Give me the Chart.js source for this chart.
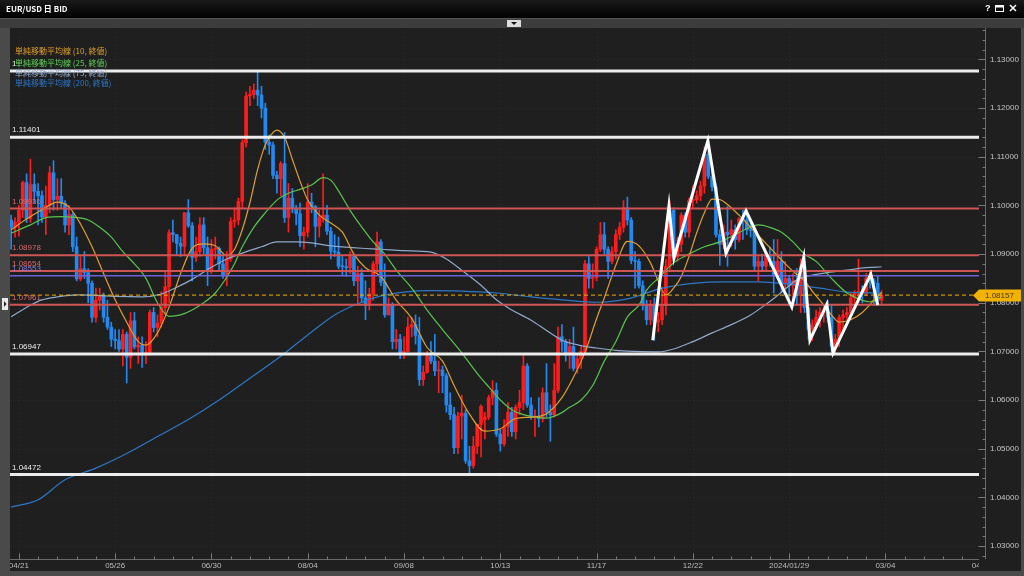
<!DOCTYPE html>
<html><head><meta charset="utf-8">
<script src="https://cdn.jsdelivr.net/npm/chart.js@4.4.1/dist/chart.umd.min.js"></script>
<style>
html,body{margin:0;padding:0;background:#202020;width:1024px;height:576px;overflow:hidden}
canvas{display:block}
</style></head><body>
<canvas id="c" width="1024" height="576"></canvas>
<script>
// ---------- DATA (daily EUR/USD BID, first bar = 2 bars before 04/21) ----------
const firstBarPos = -2;
const opens = [1.0970,1.0955,1.0966,1.0990,1.1047,1.0973,1.1043,1.1029,1.1020,1.0976,
 1.1000,1.1067,1.1012,1.1019,1.1004,1.0960,1.0981,1.0915,1.0849,1.0870,
 1.0862,1.0840,1.0770,1.0805,1.0815,1.0770,1.0750,1.0725,1.0722,1.0705,
 1.0735,1.0688,1.0763,1.0709,1.0713,1.0693,1.0698,1.0780,1.0749,1.0758,
 1.0790,1.0833,1.0944,1.0940,1.0922,1.0916,1.0985,1.0958,1.0893,1.0905,
 1.0960,1.0913,1.0866,1.0910,1.0912,1.0880,1.0855,1.0890,1.0967,1.0970,
 1.1008,1.1129,1.1225,1.1228,1.1237,1.1227,1.1200,1.1130,1.1124,1.1062,
 1.1055,1.1086,1.0975,1.1015,1.0995,1.0983,1.0938,1.0945,1.1007,1.0998,
 1.0957,1.0975,1.0980,1.0947,1.0906,1.0904,1.0875,1.0874,1.0872,1.0895,
 1.0845,1.0860,1.0810,1.0795,1.0818,1.0880,1.0925,1.0842,1.0775,1.0795,
 1.0720,1.0725,1.0697,1.0700,1.0750,1.0755,1.0733,1.0642,1.0657,1.0690,
 1.0680,1.0660,1.0662,1.0650,1.0590,1.0570,1.0502,1.0567,1.0573,1.0475,
 1.0465,1.0505,1.0550,1.0560,1.0565,1.0605,1.0620,1.0530,1.0510,1.0545,
 1.0575,1.0535,1.0585,1.0595,1.0670,1.0590,1.0565,1.0567,1.0562,1.0615,
 1.0575,1.0570,1.0620,1.0730,1.0720,1.0695,1.0710,1.0665,1.0685,1.0700,
 1.0880,1.0850,1.0852,1.0910,1.0940,1.0910,1.0885,1.0905,1.0940,1.0955,
 1.0995,1.0970,1.0887,1.0885,1.0835,1.0795,1.0765,1.0795,1.0760,1.0765,
 1.0795,1.0875,1.0990,1.0895,1.0920,1.0980,1.0945,1.1010,1.1012,1.1020,
 1.1040,1.1105,1.1060,1.1038,1.0940,1.0920,1.0945,1.0940,1.0950,1.0930,
 1.0973,1.0970,1.0950,1.0948,1.0875,1.0885,1.0875,1.0897,1.0885,1.0855,
 1.0885,1.0840,1.0850,1.0835,1.0845,1.0815,1.0875,1.0790,1.0745,1.0755,
 1.0770,1.0780,1.0785,1.0770,1.0710,1.0725,1.0770,1.0775,1.0780,1.0810,
 1.0820,1.0823,1.0820,1.0850,1.0845,1.0840,1.0805];
const highs = [1.0980,1.0975,1.1000,1.1050,1.1065,1.1095,1.1065,1.1045,1.1030,1.1040,
 1.1080,1.1092,1.1055,1.1055,1.1010,1.1000,1.0985,1.0935,1.0895,1.0905,
 1.0870,1.0845,1.0830,1.0830,1.0820,1.0805,1.0760,1.0745,1.0745,1.0745,
 1.0740,1.0780,1.0780,1.0730,1.0730,1.0720,1.0785,1.0790,1.0775,1.0823,
 1.0865,1.0950,1.0970,1.0940,1.0935,1.0985,1.1012,1.0965,1.0935,1.0975,
 1.0975,1.0935,1.0930,1.0935,1.0915,1.0900,1.0905,1.0975,1.0995,1.1015,
 1.1135,1.1233,1.1245,1.1250,1.1276,1.1245,1.1210,1.1145,1.1130,1.1070,
 1.1090,1.1150,1.1045,1.1035,1.1000,1.1005,1.0955,1.1045,1.1025,1.1000,
 1.0990,1.1065,1.1000,1.0955,1.0940,1.0935,1.0895,1.0890,1.0905,1.0900,
 1.0875,1.0870,1.0845,1.0830,1.0885,1.0945,1.0930,1.0880,1.0810,1.0800,
 1.0745,1.0735,1.0730,1.0770,1.0770,1.0775,1.0770,1.0670,1.0700,1.0720,
 1.0735,1.0680,1.0670,1.0655,1.0615,1.0585,1.0575,1.0610,1.0580,1.0505,
 1.0525,1.0550,1.0590,1.0575,1.0610,1.0640,1.0635,1.0540,1.0560,1.0595,
 1.0585,1.0590,1.0620,1.0695,1.0675,1.0605,1.0580,1.0605,1.0625,1.0675,
 1.0590,1.0675,1.0750,1.0755,1.0725,1.0725,1.0750,1.0695,1.0710,1.0887,
 1.0895,1.0880,1.0915,1.0965,1.0965,1.0915,1.0915,1.0950,1.0965,1.1010,
 1.1017,1.0975,1.0905,1.0890,1.0845,1.0805,1.0805,1.0810,1.0780,1.0825,
 1.0890,1.1009,1.0995,1.0935,1.0985,1.0985,1.1015,1.1040,1.1030,1.1050,
 1.1120,1.1139,1.1085,1.1045,1.0950,1.0960,1.0998,1.0970,1.0960,1.0975,
 1.0990,1.0990,1.0970,1.0950,1.0895,1.0900,1.0905,1.0915,1.0930,1.0930,
 1.0905,1.0885,1.0855,1.0860,1.0870,1.0890,1.0885,1.0790,1.0765,1.0785,
 1.0790,1.0795,1.0805,1.0795,1.0735,1.0775,1.0785,1.0790,1.0820,1.0825,
 1.0890,1.0835,1.0860,1.0865,1.0850,1.0855,1.0825];
const lows = [1.0910,1.0935,1.0937,1.0975,1.0965,1.0965,1.1005,1.0960,1.0965,1.0940,
 1.0985,1.0990,1.0990,1.0995,1.0945,1.0940,1.0905,1.0845,1.0845,1.0850,
 1.0800,1.0760,1.0760,1.0785,1.0760,1.0745,1.0710,1.0705,1.0700,1.0670,
 1.0635,1.0665,1.0705,1.0675,1.0667,1.0675,1.0692,1.0740,1.0730,1.0750,
 1.0775,1.0800,1.0925,1.0900,1.0895,1.0900,1.0955,1.0845,1.0885,1.0895,
 1.0900,1.0835,1.0860,1.0890,1.0865,1.0850,1.0835,1.0885,1.0955,1.0960,
 1.0995,1.1120,1.1205,1.1220,1.1205,1.1180,1.1115,1.1105,1.1055,1.1025,
 1.1020,1.0965,1.0945,1.0985,1.0960,1.0915,1.0910,1.0935,1.0985,1.0915,
 1.0935,1.0965,1.0940,1.0890,1.0895,1.0870,1.0855,1.0855,1.0860,1.0835,
 1.0800,1.0800,1.0765,1.0785,1.0805,1.0860,1.0835,1.0770,1.0775,1.0705,
 1.0705,1.0685,1.0685,1.0700,1.0730,1.0715,1.0630,1.0630,1.0655,1.0675,
 1.0650,1.0615,1.0615,1.0575,1.0560,1.0490,1.0490,1.0520,1.0470,1.0448,
 1.0460,1.0490,1.0483,1.0520,1.0560,1.0590,1.0525,1.0495,1.0505,1.0525,
 1.0525,1.0520,1.0570,1.0580,1.0585,1.0560,1.0525,1.0545,1.0555,1.0565,
 1.0515,1.0565,1.0615,1.0700,1.0680,1.0665,1.0660,1.0655,1.0665,1.0695,
 1.0830,1.0830,1.0845,1.0905,1.0900,1.0850,1.0880,1.0890,1.0930,1.0945,
 1.0960,1.0880,1.0830,1.0830,1.0785,1.0755,1.0755,1.0723,1.0740,1.0755,
 1.0775,1.0865,1.0888,1.0885,1.0905,1.0935,1.0935,1.0995,1.1005,1.1010,
 1.1025,1.1055,1.1030,1.0935,1.0877,1.0910,1.0875,1.0915,1.0910,1.0925,
 1.0930,1.0940,1.0935,1.0865,1.0845,1.0865,1.0865,1.0875,1.0820,1.0850,
 1.0820,1.0830,1.0795,1.0810,1.0795,1.0780,1.0780,1.0725,1.0722,1.0750,
 1.0750,1.0760,1.0760,1.0700,1.0695,1.0710,1.0740,1.0765,1.0765,1.0790,
 1.0800,1.0800,1.0815,1.0830,1.0795,1.0795,1.0797];
const closes = [1.0955,1.0966,1.0990,1.1047,1.0973,1.1043,1.1029,1.1020,1.0976,1.1000,
 1.1067,1.1012,1.1019,1.1004,1.0960,1.0981,1.0915,1.0849,1.0870,1.0862,
 1.0840,1.0770,1.0805,1.0815,1.0770,1.0750,1.0725,1.0722,1.0705,1.0735,
 1.0688,1.0763,1.0709,1.0713,1.0693,1.0698,1.0780,1.0749,1.0758,1.0790,
 1.0833,1.0944,1.0940,1.0922,1.0916,1.0985,1.0958,1.0893,1.0905,1.0960,
 1.0913,1.0866,1.0910,1.0912,1.0880,1.0855,1.0890,1.0967,1.0970,1.1008,
 1.1129,1.1225,1.1228,1.1237,1.1227,1.1200,1.1130,1.1124,1.1062,1.1055,
 1.1086,1.0975,1.1015,1.0995,1.0983,1.0938,1.0945,1.1007,1.0998,1.0957,
 1.0975,1.0980,1.0947,1.0906,1.0904,1.0875,1.0874,1.0872,1.0895,1.0845,
 1.0860,1.0810,1.0795,1.0818,1.0880,1.0925,1.0842,1.0775,1.0795,1.0720,
 1.0725,1.0697,1.0700,1.0750,1.0755,1.0733,1.0642,1.0657,1.0690,1.0680,
 1.0660,1.0662,1.0650,1.0590,1.0570,1.0502,1.0567,1.0573,1.0475,1.0465,
 1.0505,1.0550,1.0587,1.0565,1.0605,1.0620,1.0530,1.0510,1.0545,1.0575,
 1.0535,1.0585,1.0595,1.0670,1.0590,1.0565,1.0567,1.0562,1.0615,1.0575,
 1.0570,1.0620,1.0730,1.0720,1.0695,1.0710,1.0665,1.0685,1.0700,1.0880,
 1.0850,1.0852,1.0910,1.0940,1.0910,1.0885,1.0905,1.0940,1.0955,1.0995,
 1.0970,1.0887,1.0885,1.0835,1.0795,1.0765,1.0795,1.0760,1.0765,1.0795,
 1.0875,1.0990,1.0895,1.0920,1.0980,1.0945,1.1010,1.1012,1.1020,1.1040,
 1.1105,1.1060,1.1038,1.0940,1.0920,1.0945,1.0940,1.0950,1.0930,1.0973,
 1.0970,1.0950,1.0948,1.0875,1.0885,1.0875,1.0897,1.0885,1.0855,1.0885,
 1.0840,1.0850,1.0835,1.0845,1.0815,1.0875,1.0790,1.0745,1.0755,1.0770,
 1.0780,1.0785,1.0770,1.0710,1.0725,1.0770,1.0775,1.0780,1.0810,1.0820,
 1.0823,1.0820,1.0850,1.0845,1.0840,1.0805,1.08157];

// Moving averages (bar position, value)
const ma10Pos = [-2,2,6,10,13,16,19,22,25,28,31,33,36,39,42,45,48,51,54,56,58,60,62,64,66,67,69,71,73,75,78,81,84,87,90,94,98,102,106,110,113,117,121,125,129,133,137,141,144,147,150,152,155,158,161,164,166,168,170,172,174,176,178,180,182,184,187,190,193,196,199,202,204,206,209,211,213,216,219,222,224];
const ma10Val = [1.0950,1.0972,1.0991,1.1007,1.0997,1.0962,1.0915,1.0860,1.0806,1.0760,1.0720,1.0713,1.0738,1.0791,1.0860,1.0912,1.0921,1.0917,1.0897,1.0910,1.0950,1.1006,1.1074,1.1125,1.1150,1.1155,1.1140,1.1095,1.1050,1.1011,1.0980,1.0964,1.0945,1.0900,1.0872,1.0854,1.0805,1.0768,1.0708,1.0680,1.0630,1.0571,1.0536,1.0541,1.0562,1.0565,1.0572,1.0605,1.0647,1.0698,1.0767,1.0810,1.0877,1.0926,1.0917,1.0882,1.0845,1.0816,1.0830,1.0854,1.0895,1.0944,1.0985,1.1013,1.1012,1.1002,1.0980,1.0955,1.0930,1.0905,1.0880,1.0858,1.0845,1.0824,1.0795,1.0775,1.0760,1.0765,1.0780,1.0805,1.0821];
const ma25Pos = [-2,3,7,11,14,18,21,24,27,30,33,36,39,42,45,48,51,54,56,58,61,64,67,70,73,76,79,81,83,86,89,92,95,98,102,106,110,115,119,122,125,128,131,134,137,140,143,146,149,152,155,158,161,163,166,170,174,178,182,186,189,192,195,198,201,204,207,211,215,218,221,224];
const ma25Val = [1.0943,1.0960,1.0975,1.0977,1.0976,1.0970,1.0955,1.0935,1.0905,1.0880,1.0850,1.0800,1.0772,1.0775,1.0785,1.0800,1.0820,1.0853,1.0880,1.0915,1.0955,1.0985,1.1011,1.1025,1.1033,1.1042,1.1057,1.1052,1.1030,1.0990,1.0956,1.0925,1.0900,1.0867,1.0830,1.0785,1.0745,1.0697,1.0655,1.0627,1.0600,1.0580,1.0570,1.0565,1.0563,1.0570,1.0585,1.0600,1.0630,1.0680,1.0720,1.0771,1.0795,1.0826,1.0850,1.0882,1.0900,1.0915,1.0925,1.0940,1.0952,1.0960,1.0955,1.0945,1.0925,1.0900,1.0885,1.0850,1.0820,1.0808,1.0802,1.0812];
const ma75Pos = [-2,3,6,10,15,20,25,32,37,41,45,50,54,58,63,67,72,76,80,84,89,94,100,107,111,115,120,124,128,133,137,141,146,150,155,160,166,170,175,180,185,190,193,197,200,202,205,210,215,220,224];
const ma75Val = [1.0771,1.0795,1.0806,1.0812,1.0816,1.0815,1.0813,1.0812,1.0818,1.0832,1.0848,1.0873,1.0890,1.0902,1.0915,1.0925,1.0925,1.0923,1.0918,1.0915,1.0912,1.0910,1.0907,1.0904,1.0890,1.0867,1.0836,1.0806,1.0785,1.0764,1.0743,1.0723,1.0712,1.0707,1.0702,1.0700,1.0699,1.0705,1.0720,1.0738,1.0755,1.0775,1.0791,1.0815,1.0835,1.0847,1.0855,1.0862,1.0867,1.0872,1.0874];
const ma200Pos = [-2,5,12,20,28,36,44,52,60,68,76,82,88,94,100,107,115,124,133,141,150,158,167,175,183,192,200,208,215,224];
const ma200Val = [1.0380,1.0395,1.0436,1.0460,1.0490,1.0525,1.0560,1.0600,1.0645,1.0690,1.0740,1.0775,1.0798,1.0814,1.0822,1.0825,1.0824,1.0820,1.0812,1.0806,1.0801,1.0808,1.0830,1.0840,1.0843,1.0843,1.0838,1.0830,1.0822,1.0820];

// Horizontal price levels
const whiteLevels = [1.12761, 1.11401, 1.06947, 1.04472];
const redLevels = [1.09936, 1.08978, 1.08654, 1.07961];
const blueLevels = [1.08553];
const currentPrice = 1.08157;

// Hand-drawn zigzag (bar position, price)
const zigPos = [164.6,168.8,170.1,178.9,183.6,188.8,200.7,203.8,205.4,209.8,211.4,221.2,223.0];
const zigVal = [1.0723,1.0999,1.0892,1.1133,1.0902,1.0989,1.0791,1.0894,1.0723,1.0797,1.0697,1.0859,1.0795];

// Axis ticks
const xTickPos = [0,25,50,75,100,125,150,175,200,225,250];
const xTickLabels = ['04/21','05/26','06/30','08/04','09/08','10/13','11/17','12/22','2024/01/29','03/04','04/08'];
const yTickVals = [1.03,1.04,1.05,1.06,1.07,1.08,1.09,1.10,1.11,1.12,1.13];
const legendLabels = ['単純移動平均線 (10, 終値)','単純移動平均線 (25, 終値)','単純移動平均線 (75, 終値)','単純移動平均線 (200, 終値)'];
const titleText = 'EUR/USD 日 BID';

// ---------- VIEW / STYLE ----------
const X_MIN = -2.3, X_MAX = 249.3, Y_MIN = 1.02733, Y_MAX = 1.13647;
const UP = '#ff1c1c', DOWN = '#2289f0';
const C10 = '#e0a02c', C25 = '#58c44e', C75 = '#8fa9cc', C200 = '#2c78c8';
const WHITE = '#ececec', RED = '#cf5454', PURPLE = '#6c62d8', YEL = '#f2b200';
const BG = '#1f1f1f';

const pos = closes.map((_, i) => firstBarPos + i);
const candleColors = closes.map((c, i) => c >= opens[i] ? UP : DOWN);
const pts = (xs, ys) => xs.map((x, i) => ({x, y: ys[i]}));
const hline = v => [{x: X_MIN, y: v}, {x: X_MAX, y: v}];

const datasets = [
  {type:'bar', data: pos.map((x,i)=>({x, y:[lows[i], highs[i]]})), backgroundColor: candleColors, barThickness: 1, grouped:false, order: 20},
  {type:'bar', data: pos.map((x,i)=>({x, y:[opens[i], closes[i]]})), backgroundColor: candleColors, barThickness: 3, minBarLength: 1, grouped:false, order: 19},
  {type:'line', data: pts(ma200Pos, ma200Val), borderColor: C200, borderWidth: 1.2, pointRadius: 0, cubicInterpolationMode:'monotone', order: 9},
  {type:'line', data: pts(ma75Pos, ma75Val), borderColor: C75, borderWidth: 1.2, pointRadius: 0, cubicInterpolationMode:'monotone', order: 8},
  {type:'line', data: pts(ma25Pos, ma25Val), borderColor: C25, borderWidth: 1.2, pointRadius: 0, cubicInterpolationMode:'monotone', order: 7},
  {type:'line', data: pts(ma10Pos, ma10Val), borderColor: C10, borderWidth: 1.2, pointRadius: 0, cubicInterpolationMode:'monotone', order: 6},
];
redLevels.forEach(v => datasets.push({type:'line', data: hline(v), borderColor: RED, borderWidth: 2, pointRadius: 0, order: 4}));
blueLevels.forEach(v => datasets.push({type:'line', data: hline(v), borderColor: PURPLE, borderWidth: 1.5, pointRadius: 0, order: 4}));
whiteLevels.forEach(v => datasets.push({type:'line', data: hline(v), borderColor: WHITE, borderWidth: 3, pointRadius: 0, order: 3}));
datasets.push({type:'line', data: [{x:X_MIN,y:currentPrice},{x:X_MAX,y:currentPrice}], borderColor: YEL, borderWidth: 1, borderDash:[4,3], pointRadius: 0, order: 2});
datasets.push({type:'line', data: pts(zigPos, zigVal), borderColor: '#ffffff', borderWidth: 3, pointRadius: 0, tension: 0, order: 1, borderJoinStyle:'miter'});

const frame = {
  id: 'frame',
  beforeDraw(chart) {
    const c = chart.ctx;
    c.save();
    c.fillStyle = '#4a4a4a'; c.fillRect(0, 0, 1024, 576);
    // title bar
    const g = c.createLinearGradient(0, 0, 0, 18);
    g.addColorStop(0, '#1a1a1a'); g.addColorStop(1, '#000000');
    c.fillStyle = g; c.fillRect(0, 0, 1024, 18);
    // toolbar
    c.fillStyle = '#3d3d3d'; c.fillRect(0, 18, 1024, 10);
    c.fillStyle = '#555555'; c.fillRect(0, 18, 1024, 1);
    // chart body
    c.fillStyle = BG; c.fillRect(10, 28, 1011, 543);
    c.restore();
  },
  beforeDatasetsDraw(chart) {
    const c = chart.ctx, xs = chart.scales.x, ys = chart.scales.y, a = chart.chartArea;
    c.save();
    c.strokeStyle = 'rgba(255,255,255,0.07)'; c.lineWidth = 1; c.setLineDash([1,3]);
    yTickVals.forEach(v => { const y = Math.round(ys.getPixelForValue(v)) + 0.5; c.beginPath(); c.moveTo(a.left, y); c.lineTo(a.right, y); c.stroke(); });
    xTickPos.forEach(p => { const x = Math.round(xs.getPixelForValue(p)) + 0.5; if (x > a.right) return; c.beginPath(); c.moveTo(x, a.top); c.lineTo(x, a.bottom); c.stroke(); });
    c.restore();
  },
  afterDatasetsDraw(chart) {
    const c = chart.ctx, xs = chart.scales.x, ys = chart.scales.y, a = chart.chartArea;
    c.save();
    c.textBaseline = 'middle'; c.textAlign = 'left';
    c.font = '8px "Liberation Sans", Arial, sans-serif';
    // level labels
    const lab = (v, col) => { c.fillStyle = col; c.fillText(v.toFixed(5), 12, ys.getPixelForValue(v) - 7); };
    whiteLevels.forEach(v => lab(v, WHITE));
    redLevels.forEach(v => lab(v, '#d86a6a'));
    blueLevels.forEach(v => lab(v, '#8a7ee0'));
    // legend
    c.font = '8px "Noto Sans CJK JP", sans-serif';
    const legY = [51, 63, 73, 83], legC = [C10, '#5fd455', C75, C200];
    legendLabels.forEach((t, i) => {
      if (i === 1) { const w = c.measureText(t).width; c.fillStyle = BG; c.fillRect(15.5, legY[i] - 5, w + 1, 10); }
      c.fillStyle = legC[i]; c.fillText(t, 15, legY[i]);
    });
    // y axis
    const axX = 985.5;
    c.strokeStyle = '#6a6a6a'; c.lineWidth = 1;
    c.beginPath(); c.moveTo(axX, a.top); c.lineTo(axX, a.bottom); c.stroke();
    c.strokeStyle = '#7a7a7a';
    for (let k = 0; ; k++) {
      const v = 1.028 + k * 0.002; if (v > Y_MAX) break;
      const y = Math.round(ys.getPixelForValue(v)) + 0.5;
      const major = Math.abs((v * 100) - Math.round(v * 100)) < 1e-6;
      c.beginPath(); c.moveTo(axX - (major ? 7 : 3), y); c.lineTo(axX, y); c.stroke();
    }
    c.font = '8px "Liberation Sans", Arial, sans-serif';
    c.fillStyle = '#c4c4c4';
    yTickVals.forEach(v => c.fillText(v.toFixed(5), 990, ys.getPixelForValue(v)));
    // x axis
    const axY = a.bottom + 0.5;
    c.strokeStyle = '#6a6a6a';
    c.beginPath(); c.moveTo(a.left, axY); c.lineTo(a.right, axY); c.stroke();
    c.strokeStyle = '#7a7a7a';
    for (let p = -0; p <= 250; p += 5) {
      const x = Math.round(xs.getPixelForValue(p)) + 0.5; if (x > a.right) break;
      const major = p % 25 === 0;
      c.beginPath(); c.moveTo(x, axY - (major ? 6 : 3)); c.lineTo(x, axY); c.stroke();
    }
    c.save();
    c.beginPath(); c.rect(10, a.bottom, a.right - 10, 14); c.clip();
    c.fillStyle = '#bcbcbc'; c.textAlign = 'center';
    xTickPos.forEach((p, i) => c.fillText(xTickLabels[i], xs.getPixelForValue(p), 566));
    c.restore();
    // current price tag
    const py = Math.round(ys.getPixelForValue(currentPrice)) + 0.5;
    c.fillStyle = YEL;
    c.beginPath(); c.moveTo(973, py); c.lineTo(979, py - 6); c.lineTo(1022, py - 6); c.lineTo(1022, py + 6); c.lineTo(979, py + 6); c.closePath(); c.fill();
    c.fillStyle = '#4a3500'; c.textAlign = 'left';
    c.fillText(currentPrice.toFixed(5), 985, py);
    // left strip
    c.fillStyle = '#4a4a4a'; c.fillRect(0, 28, 10, 548);
    c.fillStyle = '#e8e8e8'; c.fillRect(2, 298, 6, 12);
    c.fillStyle = '#222'; c.beginPath(); c.moveTo(4, 301); c.lineTo(6.5, 304); c.lineTo(4, 307); c.closePath(); c.fill();
    // bottom/right frame
    c.fillStyle = '#4a4a4a'; c.fillRect(0, 571, 1024, 5); c.fillRect(1021, 28, 3, 548);
    // title
    c.fillStyle = '#ffffff'; c.font = 'bold 8px "Noto Sans CJK JP", sans-serif'; c.textAlign = 'left';
    c.fillText(titleText, 6, 9);
    c.font = 'bold 9px "Liberation Sans", Arial, sans-serif';
    c.fillText('?', 985, 9);
    c.strokeStyle = '#ffffff'; c.lineWidth = 1;
    c.strokeRect(995.5, 5.5, 8, 6); c.fillRect(995.5, 5.5, 8, 2);
    c.beginPath(); c.moveTo(1010, 5); c.lineTo(1016, 11); c.moveTo(1016, 5); c.lineTo(1010, 11); c.lineWidth = 1.5; c.stroke();
    // toolbar dropdown
    c.fillStyle = '#dcdcdc'; c.fillRect(507, 20, 14, 7);
    c.fillStyle = '#111'; c.beginPath(); c.moveTo(511, 22); c.lineTo(517, 22); c.lineTo(514, 25); c.closePath(); c.fill();
    c.restore();
  }
};

new Chart(document.getElementById('c'), {
  type: 'bar',
  data: { datasets },
  options: {
    responsive: false, animation: false, devicePixelRatio: 1, normalized: true,
    layout: { padding: { left: 10, top: 28, right: 45, bottom: 17 } },
    scales: {
      x: { type: 'linear', min: X_MIN, max: X_MAX, display: false, offset: false },
      y: { type: 'linear', min: Y_MIN, max: Y_MAX, display: false }
    },
    plugins: { legend: { display: false }, tooltip: { enabled: false } }
  },
  plugins: [frame]
});
</script>
</body></html>
